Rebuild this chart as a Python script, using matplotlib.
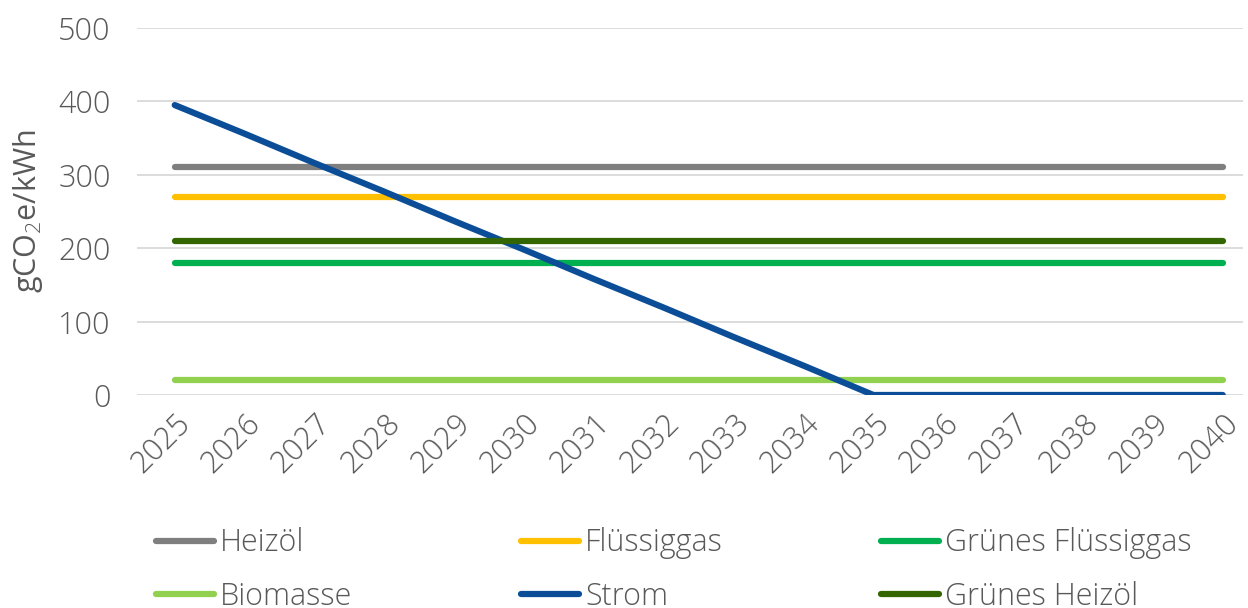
import matplotlib
matplotlib.use("Agg")
import matplotlib.pyplot as plt
from matplotlib.lines import Line2D
from matplotlib import font_manager as fm

years = [str(y) for y in range(2025, 2041)]
heizoel = [310] * 16
fluessiggas = [270] * 16
gruenes_fluessiggas = [180] * 16
biomasse = [20] * 16
strom = [395, 356, 316, 277, 237, 198, 158, 119, 79, 40, 0, 0, 0, 0, 0, 0]
gruenes_heizoel = [210] * 16

series_names = ["Heizöl", "Flüssiggas", "Grünes Flüssiggas", "Biomasse", "Strom", "Grünes Heizöl"]
series_values = [heizoel, fluessiggas, gruenes_fluessiggas, biomasse, strom, gruenes_heizoel]
colors = ["#7F7F7F", "#FFC000", "#00B050", "#92D050", "#0B4E97", "#336600"]
yticks = [0, 100, 200, 300, 400, 500]

entries = {(f.name, f.weight, f.style) for f in fm.fontManager.ttflist}
fam_name, fam_weight = "DejaVu Sans", 400
for name in ["Open Sans", "Noto Sans", "Lato", "Roboto"]:
    lights = [w for (n, w, s) in entries if n == name and s == 'normal'
              and isinstance(w, int) and 250 <= w <= 350]
    if lights:
        fam_name, fam_weight = name, min(lights, key=lambda w: abs(w - 300))
        break
fam = [fam_name, "DejaVu Sans"]
plt.rcParams['font.family'] = fam
plt.rcParams['font.weight'] = fam_weight
plt.rcParams['mathtext.fontset'] = 'custom'
plt.rcParams['mathtext.rm'] = f"{fam_name}:{'light' if fam_weight < 400 else 'normal'}"
plt.rcParams['mathtext.default'] = 'rm'
txt = "#595959"
fs = 22

fig = plt.figure(figsize=(12.48, 6.08), dpi=100)
ax = fig.add_axes([137/1248, 1 - 395/608, (1243-137)/1248, (395-28)/608])

x = list(range(len(years)))
for name, vals, c in zip(series_names, series_values, colors):
    ax.plot(x, vals, color=c, lw=4.5, solid_capstyle='round', solid_joinstyle='round', label=name)

ax.set_ylim(0, 500)
ax.set_xlim(-0.54, 15.29)
ax.set_yticks(yticks)
ax.set_xticks(x)
ax.set_xticklabels(years, rotation=45, ha='right', rotation_mode='anchor')
ax.grid(axis='y', color='#D9D9D9', lw=1.3)
ax.set_axisbelow(True)
for s in ax.spines.values():
    s.set_visible(False)
ax.tick_params(axis='both', length=0, labelsize=fs, colors=txt)
ax.tick_params(axis='y', pad=19)
ax.tick_params(axis='x', pad=9)
ax.set_ylabel("gCO$_2$e/kWh", fontsize=fs, color=txt)
ax.yaxis.set_label_coords(-0.083, 0.5)

handles = [Line2D([0], [0], color=c, lw=4.5, solid_capstyle='round') for c in colors]
col_x = [156, 521, 881]
for i in range(3):
    fig.legend([handles[i], handles[i + 3]], [series_names[i], series_names[i + 3]],
               loc='center left', bbox_to_anchor=(col_x[i]/1248, 1 - 570/608),
               frameon=False, fontsize=fs, labelcolor=txt,
               handlelength=1.9, handletextpad=0.2, labelspacing=0.7,
               borderaxespad=0, borderpad=0)

fig.savefig("out.png", dpi=100)
